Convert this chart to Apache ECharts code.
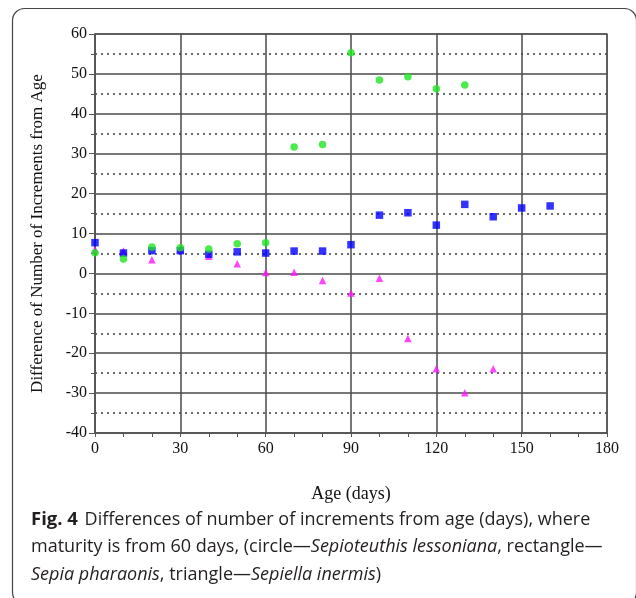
<!DOCTYPE html>
<html>
<head>
<meta charset="utf-8">
<script src="https://cdn.jsdelivr.net/npm/echarts@6/dist/echarts.min.js"></script>
<style>
  html, body { margin: 0; padding: 0; background: #fff; }
  #chart { width: 636px; height: 598px; }
</style>
</head>
<body>
<div id="chart"></div>
<script>
// ages (days)
var ageLessoniana = [0, 10, 20, 30, 40, 50, 60, 70, 80, 90, 100, 110, 120, 130];
var diffLessoniana = [5.2, 3.6, 6.6, 6.4, 6.1, 7.4, 7.7, 31.7, 32.3, 55.3, 48.5, 49.3, 46.3, 47.2];

var agePharaonis = [0, 10, 20, 30, 40, 50, 60, 70, 80, 90, 100, 110, 120, 130, 140, 150, 160];
var diffPharaonis = [7.7, 5.1, 5.7, 5.7, 4.8, 5.4, 5.1, 5.6, 5.6, 7.2, 14.6, 15.2, 12.1, 17.3, 14.2, 16.4, 16.9];

var ageInermis = [0, 10, 20, 30, 40, 50, 60, 70, 80, 90, 100, 110, 120, 130, 140];
var diffInermis = [6.0, 5.6, 3.4, 6.0, 4.3, 2.4, 0.2, 0.3, -1.8, -4.9, -1.2, -16.3, -23.9, -29.9, -23.9];

function pairs(xs, ys) {
    var out = [];
    for (var i = 0; i < xs.length; i++) out.push([xs[i], ys[i]]);
    return out;
}

var myChart = echarts.init(document.getElementById('chart'));
var serif = 'Liberation Serif';
var sans = 'Open Sans';
var capColor = '#231f20';

var option = {
    animation: false,
    grid: {
        left: 95, top: 34, width: 512, height: 399,
        show: true, borderColor: '#888', borderWidth: 1.5
    },
    xAxis: {
        type: 'value',
        min: 0, max: 180, interval: 30,
        name: 'Age (days)',
        nameLocation: 'middle',
        nameGap: 52,
        nameTextStyle: { fontFamily: serif, fontSize: 18, color: '#111' },
        axisLine: { onZero: false, lineStyle: { color: '#555', width: 1.5 } },
        axisTick: { show: true, length: 4, lineStyle: { color: '#555' } },
        minorTick: { show: true, splitNumber: 3, length: 4, lineStyle: { color: '#555' } },
        axisLabel: { fontFamily: serif, fontSize: 16, color: '#111', margin: 8 },
        splitLine: { lineStyle: { color: '#4a4a4a', width: 1.5 } }
    },
    yAxis: {
        type: 'value',
        min: -40, max: 60, interval: 10,
        name: 'Difference of Number of Increments from Age',
        nameLocation: 'middle',
        nameGap: 49,
        nameTextStyle: { fontFamily: serif, fontSize: 17, color: '#111' },
        axisLine: { lineStyle: { color: '#555', width: 1.5 } },
        axisTick: { show: true, length: 6, lineStyle: { color: '#555' } },
        minorTick: { show: true, splitNumber: 2, length: 4, lineStyle: { color: '#555' } },
        axisLabel: { fontFamily: serif, fontSize: 16, color: '#111', margin: 8 },
        splitLine: { lineStyle: { color: '#4a4a4a', width: 1.5 } },
        minorSplitLine: { show: true, lineStyle: { color: '#3a3a3a', type: [2, 4], width: 1.5 } }
    },
    series: [
        {
            name: 'Sepiella inermis', type: 'scatter', symbol: 'triangle', symbolSize: 7.5,
            itemStyle: { color: '#ff14ff' }, data: pairs(ageInermis, diffInermis)
        },
        {
            name: 'Sepia pharaonis', type: 'scatter', symbol: 'rect', symbolSize: 7.5,
            itemStyle: { color: '#0000ff' }, data: pairs(agePharaonis, diffPharaonis)
        },
        {
            name: 'Sepioteuthis lessoniana', type: 'scatter', symbol: 'circle', symbolSize: 7.5,
            itemStyle: { color: '#1ee61e' }, data: pairs(ageLessoniana, diffLessoniana)
        }
    ],
    graphic: [
        {
            type: 'rect', silent: true,
            shape: { x: 12.5, y: 8.5, width: 624, height: 596, r: 12 },
            style: { fill: 'none', stroke: '#444', lineWidth: 1.2 }
        },
        {
            type: 'text', left: 31, top: 510,
            style: {
                text: '{b|Fig. 4}  {n|Differences of number of increments from age (days), where}',
                rich: {
                    b: { fontFamily: sans, fontSize: 18.5, fontWeight: 'bold', fill: capColor },
                    n: { fontFamily: sans, fontSize: 18, fill: capColor }
                }
            }
        },
        {
            type: 'text', left: 31, top: 538,
            style: {
                text: '{n|maturity is from 60 days, (circle\u2014}{i|Sepioteuthis lessoniana}{n|, rectangle\u2014}',
                rich: {
                    n: { fontFamily: sans, fontSize: 18, fill: capColor },
                    i: { fontFamily: sans, fontSize: 18, fontStyle: 'italic', fill: capColor }
                }
            }
        },
        {
            type: 'text', left: 31, top: 566,
            style: {
                text: '{i|Sepia pharaonis}{n|, triangle\u2014}{i|Sepiella inermis}{n|)}',
                rich: {
                    n: { fontFamily: sans, fontSize: 18, fill: capColor },
                    i: { fontFamily: sans, fontSize: 18, fontStyle: 'italic', fill: capColor }
                }
            }
        }
    ]
};

myChart.setOption(option);
</script>
</body>
</html>
